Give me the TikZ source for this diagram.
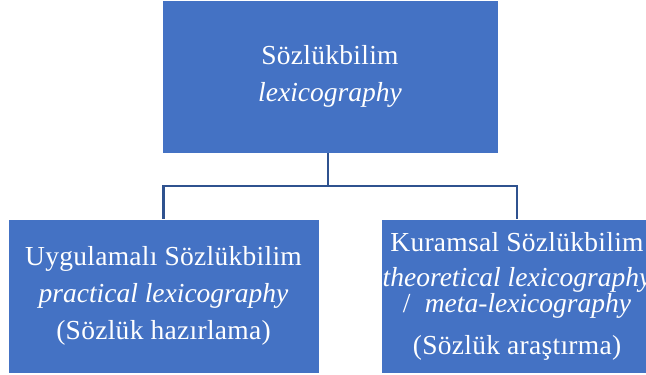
\documentclass[tikz,border=0pt]{standalone}
\usepackage{fontspec}
\setmainfont{Liberation Serif}[LetterSpace=1,ItalicFeatures={LetterSpace=0}]
\definecolor{boxblue}{HTML}{4472C4}
\definecolor{linkblue}{HTML}{2F528F}
\begin{document}
\begin{tikzpicture}[x=1bp,y=-1bp,
  box/.style={fill=boxblue,draw=white,line width=0.6bp,inner sep=0pt,outer sep=0pt,
    text=white,align=center,font=\fontsize{27.5bp}{37bp}\selectfont},
  link/.style={draw=linkblue,line width=2.4bp}]
\useasboundingbox (0,0) rectangle (646,374);
\clip (0,0) rectangle (646,374);
\node[box,minimum width=336bp,minimum height=153bp] (top) at (330,76.5)
  {Sözlükbilim\\\textit{lexicography}};
\node[box,minimum width=311bp,minimum height=154bp] (left) at (163.5,296)
  {Uygulamalı Sözlükbilim\\\textit{practical lexicography}\\(Sözlük hazırlama)};
\node[box,minimum width=272bp,minimum height=154bp] (right) at (517,296)
  {Kuramsal Sözlükbilim\\[-2bp]\textit{theoretical lexicography}\\[-11bp]/\ \ \textit{meta-lexicography}\\[5bp](Sözlük araştırma)};
\coordinate (mid) at (328,186);
\draw[link] (top.south -| mid) -- (mid);
\draw[link] (mid) -| (left.north);
\draw[link] (mid) -| (right.north);
\end{tikzpicture}
\end{document}
